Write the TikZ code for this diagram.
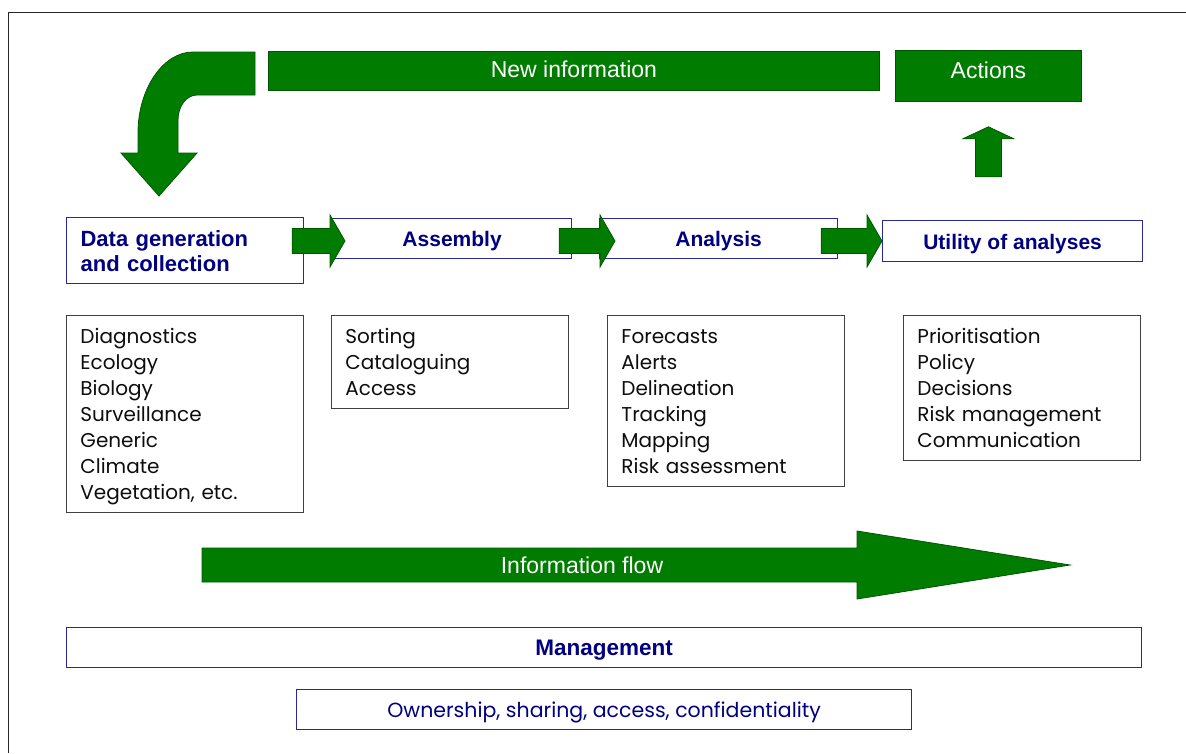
\documentclass[tikz,border=0pt]{standalone}
\usepackage{fontspec}
\setmainfont{Liberation Sans}
\newfontfamily\gothic{Poppins}
\usetikzlibrary{calc}
\definecolor{leafgreen}{RGB}{0,125,0}
\definecolor{darkleaf}{RGB}{0,85,0}
\definecolor{inkblue}{RGB}{0,0,128}
\definecolor{edgeblue}{RGB}{40,40,150}
\newcommand{\headroom}{\rule{0pt}{27.6pt}}
\newcommand{\footroom}{\rule[-13pt]{0pt}{13pt}}
\tikzset{
	stage/.style={draw=edgeblue,line width=1.2pt,text=inkblue,inner ysep=0pt,font=\bfseries\fontsize{21}{25}\selectfont},
	oneline/.style={text height=28pt,text depth=12pt},
	listbox/.style={draw=black!75,line width=0.9pt,anchor=north west,inner xsep=14pt,inner ysep=0pt,text width=209pt,align=left,text=black!95,font=\gothic\fontsize{20}{26}\selectfont},
	greenbox/.style={fill=leafgreen,draw=darkleaf,line width=0.8pt,text=white,inner ysep=0pt,font=\fontsize{23}{27}\selectfont},
	bigarrow/.style={fill=leafgreen,draw=darkleaf,line width=0.8pt},
	frame/.style={draw=black!85,line width=1pt}
}
\newcommand{\stagearrow}[4]{
	\coordinate (#1-out) at ($(#1.east |- lane)+(-#3,0)$);
	\coordinate (#2-in) at ($(#2.west |- lane)+(#4,0)$);
	\filldraw[bigarrow] ($(#1-out)+(0,-12.5)$) -- ($(#2-in)+(-15,-12.5)$) -- ($(#2-in)+(-15,-26)$) -- (#2-in) -- ($(#2-in)+(-15,26)$) -- ($(#2-in)+(-15,12.5)$) -- ($(#1-out)+(0,12.5)$) -- cycle;
}

\begin{document}
\begin{tikzpicture}[x=1pt,y=-1pt]
	\useasboundingbox (0,0) rectangle (1186,753);
	\draw[frame] (1186,12) -- (8,12) -- (8,753);
	\coordinate (lane) at (0,241);
	\node (newinfo) at (268,51) [greenbox,anchor=north west,minimum width=611pt,text height=25.7pt,text depth=13.3pt] {New information};
	\node (actions) at (895,50) [greenbox,anchor=north west,minimum width=186pt,text height=27.7pt,text depth=23.3pt] {Actions};
	\filldraw[bigarrow] (255,52) -- (193,52) .. controls (163,52) and (138,89) .. (138,133) -- (138,153) -- (121,153) -- (159,196) -- (197,153) -- (178,153) -- (178,120) .. controls (178,106) and (186.5,95) .. (197,95) -- (255,95) -- cycle;
	\coordinate (rise) at ($(actions.south)+(0,25)$);
	\filldraw[bigarrow] (rise) -- ++(25.5,12) -- ++(-12.5,0) -- ++(0,38) -- ++(-26,0) -- ++(0,-38) -- ++(-12.5,0) -- cycle;
	\node (data) at (66,217) [stage,anchor=north west,inner xsep=14pt,text width=209pt,align=left,font=\bfseries\fontsize{22}{25}\selectfont] {\rule{0pt}{28.7pt}Data generation\\and collection\rule[-12.3pt]{0pt}{12.3pt}};
	\node (assembly) at (332,217.5) [stage,oneline,anchor=north west,minimum width=239pt] {Assembly};
	\node (analysis) at (599,217.5) [stage,oneline,anchor=north west,minimum width=238pt] {Analysis};
	\node (utility) at (882,220) [stage,oneline,anchor=north west,minimum width=260pt,text height=28.5pt,text depth=12.5pt] {Utility of analyses};
	\stagearrow{data}{assembly}{12}{13}
	\stagearrow{assembly}{analysis}{13}{16}
	\stagearrow{analysis}{utility}{17}{0}
	\node (sources) at (66,315) [listbox] {\headroom Diagnostics\\Ecology\\Biology\\Surveillance\\Generic\\Climate\\Vegetation, etc.\footroom};
	\node (handling) at (331,315) [listbox] {\headroom Sorting\\Cataloguing\\Access\footroom};
	\node (products) at (607,315) [listbox] {\headroom Forecasts\\Alerts\\Delineation\\Tracking\\Mapping\\Risk assessment\footroom};
	\node (uses) at (903,315) [listbox] {\headroom Prioritisation\\Policy\\Decisions\\Risk management\\Communication\footroom};
	\filldraw[bigarrow] (202,548) -- (857,548) -- (857,531) -- (1070,565) -- (857,599) -- (857,582) -- (202,582) -- cycle;
	\node (flow) at (582,573) [anchor=base,text=white,font=\fontsize{23}{27}\selectfont] {Information flow};
	\node (management) at (66,627) [stage,oneline,anchor=north west,minimum width=1075pt,font=\bfseries\fontsize{22.5}{27}\selectfont] {Management};
	\node (ownership) at (296,689) [stage,oneline,anchor=north west,minimum width=615pt,font=\gothic\fontsize{20.5}{26}\selectfont] {Ownership, sharing, access, confidentiality};
\end{tikzpicture}
\end{document}
